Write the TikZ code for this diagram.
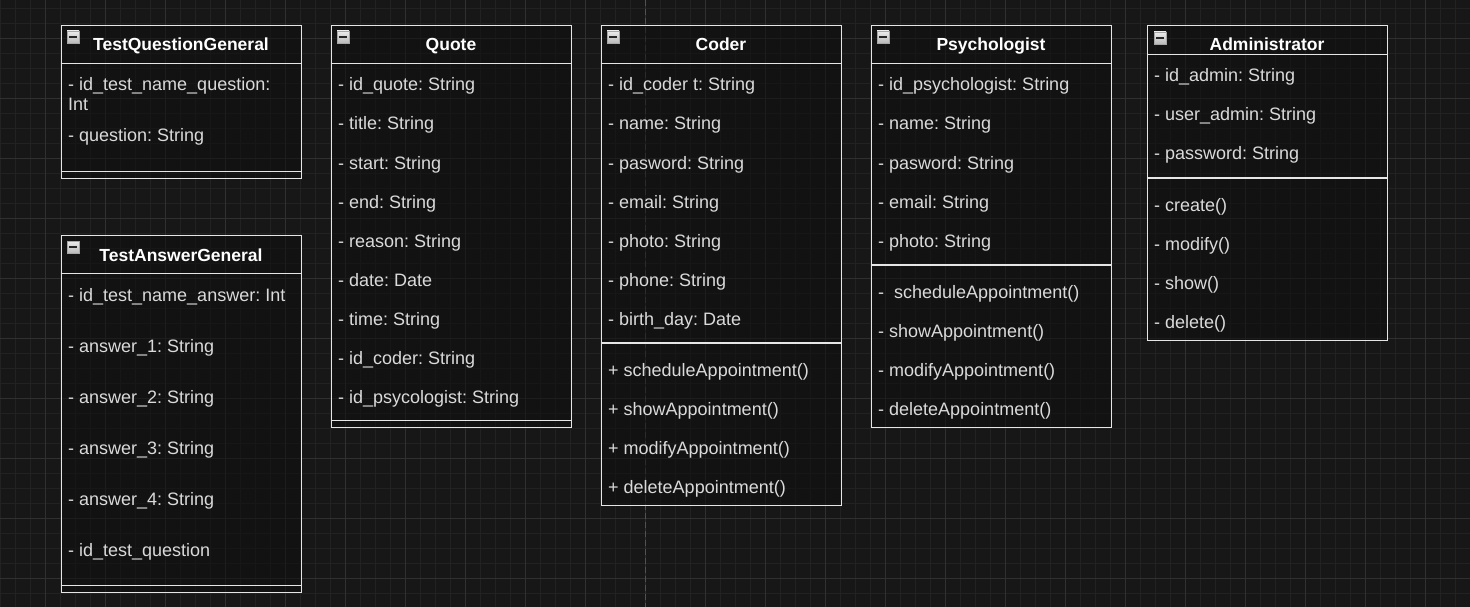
\documentclass[tikz,border=0pt]{standalone}
\usepackage{fontspec}
\setmainfont{Liberation Sans}
\frenchspacing
\definecolor{canvas}{HTML}{171717}
\definecolor{minorline}{HTML}{222222}
\definecolor{majorline}{HTML}{303030}
\definecolor{boxline}{HTML}{E6E6E6}
\definecolor{boxfill}{HTML}{0E0E0E}
\definecolor{rowtext}{HTML}{DADADA}
\tikzset{
  classbox/.style={draw=boxline,line width=1.4pt,fill=boxfill,fill opacity=0.55,
    draw opacity=1,anchor=north west,inner sep=0pt},
  classline/.style={draw=boxline,line width=1.4pt},
  classtitle/.style={text=white,font=\bfseries\fontsize{17.5}{20}\selectfont,
    anchor=base,inner sep=0pt},
  attr/.style={text=rowtext,font=\fontsize{18}{21}\selectfont,anchor=base west,inner sep=0pt},
  minusicon/.style={draw=gray!70,line width=0.6pt,top color=gray!15,bottom color=gray!55,
    minimum size=12pt,inner sep=0pt,
    path picture={\draw[black!85,line width=1.6pt]
      ([xshift=-3.8pt]path picture bounding box.center) --
      ([xshift=3.8pt]path picture bounding box.center);}}
}
\begin{document}
\begin{tikzpicture}[x=1pt,y=-1pt]
  \useasboundingbox (0,0) rectangle (1470,607);
  \fill[canvas] (0,0) rectangle (1470,607);
  % grid
  \foreach \gx in {0,15,...,1470} \draw[minorline,line width=0.8pt] (\gx,0) -- (\gx,607);
  \foreach \gy in {8,23,...,607} \draw[minorline,line width=0.8pt] (0,\gy) -- (1470,\gy);
  \foreach \gx in {45,105,...,1470} \draw[majorline,line width=0.8pt] (\gx,0) -- (\gx,607);
  \foreach \gy in {38,98,...,607} \draw[majorline,line width=0.8pt] (0,\gy) -- (1470,\gy);
  \draw[black!68,line width=0.9pt,dash pattern=on 6pt off 3pt] (645.5,0) -- (645.5,607);

  % TestQuestionGeneral
  \node[classbox,minimum width=240pt,minimum height=153pt] (tqg) at (60.7,25) {};
  \draw[classline] (60.7,63.5) -- (300.7,63.5);
  \draw[classline] (60.7,171.5) -- (300.7,171.5);
  \node[minusicon] (tqg-icon) at (73,37) {};
  \path (181,51) node[classtitle] (tqg-title) {TestQuestionGeneral};
  \path (68,91) node[attr] (tqg-1) {- id\_test\_name\_question:};
  \path (68,111) node[attr] (tqg-2) {Int};
  \path (68,142) node[attr] (tqg-3) {- question: String};

  % TestAnswerGeneral
  \node[classbox,minimum width=240pt,minimum height=357pt] (tag) at (60.7,235) {};
  \draw[classline] (60.7,273.5) -- (300.7,273.5);
  \draw[classline] (60.7,585.5) -- (300.7,585.5);
  \node[minusicon] (tag-icon) at (73,247) {};
  \path (181,261) node[classtitle] (tag-title) {TestAnswerGeneral};
  \foreach \t [count=\i, evaluate=\i as \y using 301+51*(\i-1)] in
    {- id\_test\_name\_answer: Int,- answer\_1: String,- answer\_2: String,
     - answer\_3: String,- answer\_4: String,- id\_test\_question}
    \path (68,\y) node[attr] (tag-\i) {\t};

  % Quote
  \node[classbox,minimum width=240pt,minimum height=402pt] (quote) at (330.7,25) {};
  \draw[classline] (330.7,63.5) -- (570.7,63.5);
  \draw[classline] (330.7,420.5) -- (570.7,420.5);
  \node[minusicon] (quote-icon) at (343,37) {};
  \path (451,51) node[classtitle] (quote-title) {Quote};
  \foreach \t [count=\i, evaluate=\i as \y using 91+39*(\i-1)] in
    {- id\_quote: String,- title: String,- start: String,- end: String,
     - reason: String,- date: Date,- time: String,- id\_coder: String,
     - id\_psycologist: String}
    \path (338,\y) node[attr] (quote-\i) {\t};

  % Coder
  \node[classbox,minimum width=240pt,minimum height=480pt] (coder) at (600.7,25) {};
  \draw[classline] (600.7,63.5) -- (840.7,63.5);
  \draw[classline] (600.7,343) -- (840.7,343);
  \node[minusicon] (coder-icon) at (613,37) {};
  \path (721,51) node[classtitle] (coder-title) {Coder};
  \foreach \t [count=\i, evaluate=\i as \y using 91+39*(\i-1)] in
    {- id\_coder t: String,- name: String,- pasword: String,- email: String,
     - photo: String,- phone: String,- birth\_day: Date}
    \path (608,\y) node[attr] (coder-a\i) {\t};
  \foreach \t [count=\i, evaluate=\i as \y using 376+39*(\i-1)] in
    {+ scheduleAppointment(),+ showAppointment(),+ modifyAppointment(),
     + deleteAppointment()}
    \path (608,\y) node[attr] (coder-m\i) {\t};

  % Psychologist
  \node[classbox,minimum width=240pt,minimum height=402pt] (psych) at (870.7,25) {};
  \draw[classline] (870.7,63.5) -- (1110.7,63.5);
  \draw[classline] (870.7,265) -- (1110.7,265);
  \node[minusicon] (psych-icon) at (883,37) {};
  \path (991,51) node[classtitle] (psych-title) {Psychologist};
  \foreach \t [count=\i, evaluate=\i as \y using 91+39*(\i-1)] in
    {- id\_psychologist: String,- name: String,- pasword: String,
     - email: String,- photo: String}
    \path (878,\y) node[attr] (psych-a\i) {\t};
  \foreach \t [count=\i, evaluate=\i as \y using 298+39*(\i-1)] in
    {-~~scheduleAppointment(),- showAppointment(),- modifyAppointment(),
     - deleteAppointment()}
    \path (878,\y) node[attr] (psych-m\i) {\t};

  % Administrator
  \node[classbox,minimum width=240pt,minimum height=315pt] (admin) at (1146.7,25) {};
  \draw[classline] (1146.7,54.5) -- (1386.7,54.5);
  \draw[classline] (1146.7,178) -- (1386.7,178);
  \node[minusicon] (admin-icon) at (1160,38) {};
  \path (1267,51) node[classtitle] (admin-title) {Administrator};
  \foreach \t [count=\i, evaluate=\i as \y using 82+39*(\i-1)] in
    {- id\_admin: String,- user\_admin: String,- password: String}
    \path (1154,\y) node[attr] (admin-a\i) {\t};
  \foreach \t [count=\i, evaluate=\i as \y using 211+39*(\i-1)] in
    {- create(),- modify(),- show(),- delete()}
    \path (1154,\y) node[attr] (admin-m\i) {\t};
\end{tikzpicture}
\end{document}
